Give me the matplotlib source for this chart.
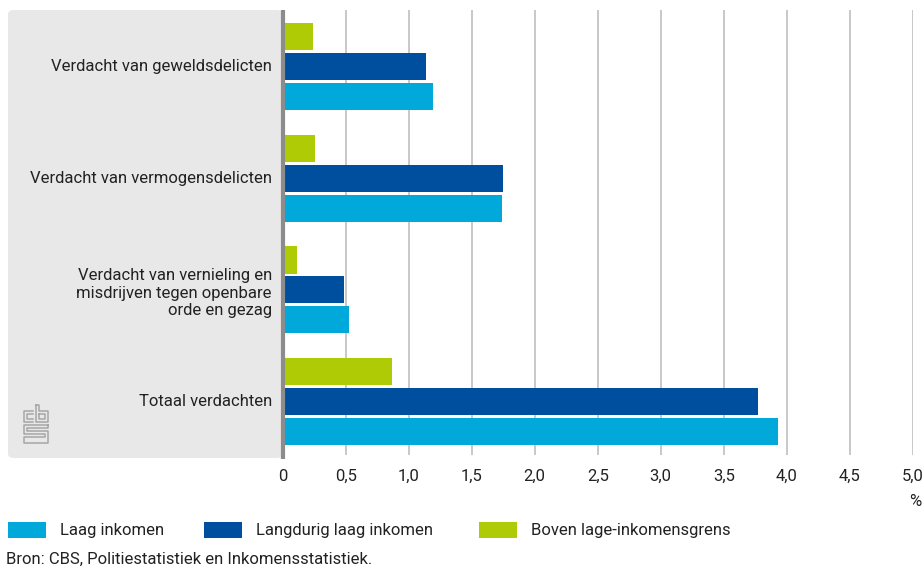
import matplotlib.pyplot as plt
from matplotlib.patches import FancyBboxPatch, Rectangle
from matplotlib.lines import Line2D

categories = [
    "Verdacht van geweldsdelicten",
    "Verdacht van vermogensdelicten",
    "Verdacht van vernieling en\nmisdrijven tegen openbare\norde en gezag",
    "Totaal verdachten",
]
series_names = ["Laag inkomen", "Langdurig laag inkomen", "Boven lage-inkomensgrens"]
laag_inkomen = [1.19, 1.74, 0.53, 3.93]
langdurig_laag = [1.14, 1.75, 0.49, 3.77]
boven_grens = [0.24, 0.26, 0.11, 0.87]
x_ticks = [0, 0.5, 1.0, 1.5, 2.0, 2.5, 3.0, 3.5, 4.0, 4.5, 5.0]
x_tick_labels = ["0", "0,5", "1,0", "1,5", "2,0", "2,5", "3,0", "3,5", "4,0", "4,5", "5,0"]

colors = ["#00A9D9", "#004F9F", "#AFCB05"]
text_color = "#222222"
fs = 12

plt.rcParams["font.family"] = ["Roboto", "DejaVu Sans"]

W, H = 924, 568
fig = plt.figure(figsize=(W / 100, H / 100), dpi=100)


def fx(px):
    return px / W


def fy(py):
    return 1 - py / H


# grey panel behind category labels
panel = FancyBboxPatch(
    (fx(8), fy(458)), fx(283) - fx(8), fy(10) - fy(458),
    boxstyle="round,pad=0,rounding_size=0.007",
    transform=fig.transFigure, facecolor="#E8E8E8", edgecolor="none", zorder=-1,
)
fig.patches.append(panel)

ax = fig.add_axes([fx(282.7), fy(455), fx(912.7) - fx(282.7), fy(10) - fy(455)])
ax.patch.set_alpha(0)
for s in ax.spines.values():
    s.set_visible(False)

n = len(categories)
pos = list(range(n))
h = 0.243
off = 0.268
series = [laag_inkomen, langdurig_laag, boven_grens]
offsets = [off, 0, -off]
for vals, o, c in zip(series, offsets, colors):
    ax.barh([p + o for p in pos], vals, height=h, color=c, zorder=3)

for t in x_ticks[1:]:
    ax.axvline(t, color="#C4C4C4", lw=1.3, zorder=1)
ax.plot([0, 0], [3.52, -0.509], color="#8C8C8C", lw=3, zorder=4, clip_on=False,
        solid_capstyle="butt")

ax.set_xlim(0, 5.0)
ax.set_ylim(3.48, -0.509)
ax.set_xticks(x_ticks)
ax.set_xticklabels(x_tick_labels, fontsize=fs, color=text_color)
ax.tick_params(axis="x", length=0, pad=10)
ax.set_yticks([])

for p, label in zip(pos, categories):
    dy = 0.03 if "\n" in label else 0.0
    ax.text(-0.085, p + dy, label, ha="right", va="center", multialignment="right",
            fontsize=fs, color=text_color, linespacing=1.2)

fig.text(fx(921), fy(502), "%", ha="right", va="center", fontsize=fs, color=text_color)

# legend
leg_x = [8, 204, 479]
for x0, name, c in zip(leg_x, series_names, colors):
    fig.patches.append(Rectangle((fx(x0), fy(538)), fx(38), fy(522) - fy(538),
                                 transform=fig.transFigure, facecolor=c, edgecolor="none"))
    fig.text(fx(x0 + 52), fy(531), name, ha="left", va="center", fontsize=fs, color=text_color)

fig.text(fx(6), fy(559), "Bron: CBS, Politiestatistiek en Inkomensstatistiek.",
         ha="left", va="center", fontsize=fs, color=text_color)

# simplified cbs logo
logo = "#A6A6A6"
lines = [
    # c
    [(33, 411), (24, 411), (24, 422), (33, 422)],
    [(33, 414), (27, 414), (27, 419), (33, 419)],
    # b
    [(36, 405), (36, 422), (48, 422), (48, 411), (39, 411), (39, 405), (36, 405)],
    [(39, 414), (45, 414), (45, 419), (39, 419), (39, 414)],
    # S
    [(48, 425), (24, 425), (24, 434), (45, 434), (45, 437), (24, 437), (24, 443),
     (48, 443), (48, 431), (27, 431), (27, 428), (48, 428), (48, 425)],
]
for pts in lines:
    xs = [fx(p[0]) for p in pts]
    ys = [fy(p[1]) for p in pts]
    fig.add_artist(Line2D(xs, ys, transform=fig.transFigure, color=logo, lw=1.1))

fig.savefig("out.png", dpi=100)
